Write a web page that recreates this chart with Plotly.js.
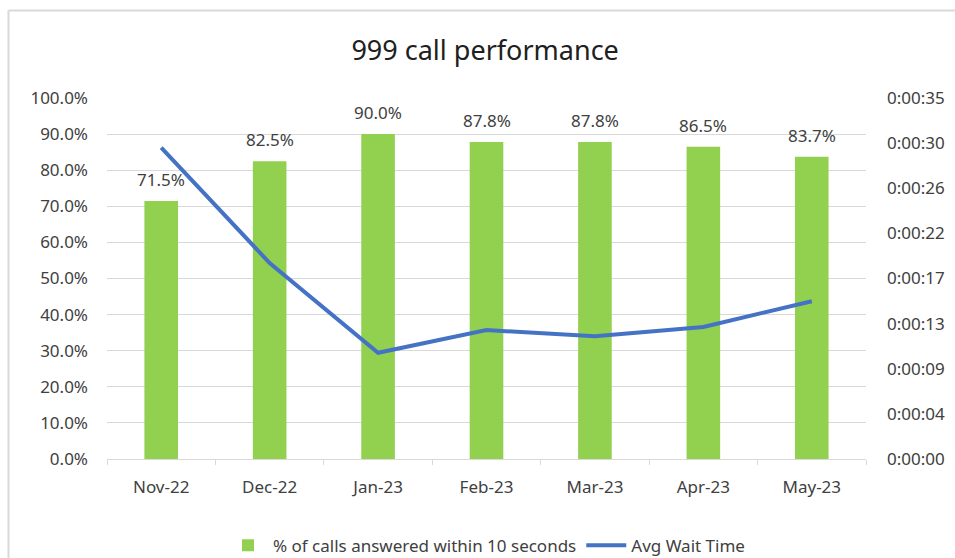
<!DOCTYPE html>
<html>
<head>
<meta charset="utf-8">
<script src="https://cdn.plot.ly/plotly-3.0.1.min.js"></script>
<style>html,body{margin:0;padding:0;background:#fff;}#chart{width:955px;height:558px;}</style>
</head>
<body>
<div id="chart"></div>
<script>
const months = ["Nov-22","Dec-22","Jan-23","Feb-23","Mar-23","Apr-23","May-23"];
const pctAnswered = [71.5, 82.5, 90.0, 87.8, 87.8, 86.5, 83.7];
const avgWaitSeconds = [30.2, 19.0, 10.3, 12.5, 11.9, 12.8, 15.3];
const leftTickVals = [0,10,20,30,40,50,60,70,80,90,100];
const rightTickVals = [0,4.375,8.75,13.125,17.5,21.875,26.25,30.625,35];
const rightTickText = ["0:00:00","0:00:04","0:00:09","0:00:13","0:00:17","0:00:22","0:00:26","0:00:30","0:00:35"];

const font = "Noto Sans, Open Sans, sans-serif";
const txt = "#404040";

const bars = {
  type: "bar", x: months, y: pctAnswered, name: "% of calls answered within 10 seconds",
  marker: {color: "#92d050"},
  hoverinfo: "x+y"
};
const line = {
  type: "scatter", mode: "lines", x: months, y: avgWaitSeconds, yaxis: "y2",
  name: "Avg Wait Time",
  line: {color: "#4472c4", width: 4}
};

const labels = months.map((m, i) => ({
  x: m, y: pctAnswered[i], xref: "x", yref: "y",
  text: pctAnswered[i].toFixed(1) + "%", showarrow: false,
  yanchor: "bottom", yshift: 8,
  font: {family: font, size: 17, color: txt}
}));

const layout = {
  width: 955, height: 558,
  margin: {l: 107, r: 89, t: 98, b: 99, autoexpand: false},
  paper_bgcolor: "#fff", plot_bgcolor: "#fff",
  font: {family: font, color: txt, size: 17},
  title: {text: "999 call performance", x: 0.508, xanchor: "center", y: 0.91, yanchor: "middle",
          font: {family: font, size: 27, color: "#202020"}},
  bargap: 0.69,
  showlegend: true,
  legend: {orientation: "h", x: 0.5, xanchor: "center", y: -0.29, yanchor: "bottom",
           font: {family: font, size: 17, color: txt}, traceorder: "normal", itemwidth: 40},
  xaxis: {type: "category", showgrid: false, showline: true, linecolor: "#d9d9d9", linewidth: 1,
          ticks: "outside", tickson: "boundaries", ticklen: 5, tickcolor: "#d9d9d9",
          tickfont: {family: font, size: 17, color: txt}, ticklabelstandoff: 13},
  yaxis: {range: [0, 100], tickvals: leftTickVals, ticktext: leftTickVals.map(v => v.toFixed(1) + "%"),
          showgrid: true, gridcolor: "#d9d9d9", gridwidth: 1, zeroline: false, showline: false,
          ticks: "", tickfont: {family: font, size: 17, color: txt}, ticklabelstandoff: 18},
  yaxis2: {overlaying: "y", side: "right", range: [0, 35], tickvals: rightTickVals, ticktext: rightTickText,
           showgrid: false, zeroline: false, showline: false, ticks: "",
           tickfont: {family: font, size: 17, color: txt}, ticklabelstandoff: 20},
  annotations: labels,
  shapes: [
    {type: "line", xref: "paper", yref: "paper", x0: -0.1298, x1: 1.2, y0: 1.2424, y1: 1.2424,
     line: {color: "#d9d9d9", width: 2}},
    {type: "line", xref: "paper", yref: "paper", x0: -0.1298, x1: -0.1298, y0: 1.2424, y1: -0.3,
     line: {color: "#d9d9d9", width: 2}}
  ]
};

Plotly.newPlot("chart", [bars, line], layout, {displayModeBar: false, staticPlot: true});
</script>
</body>
</html>
